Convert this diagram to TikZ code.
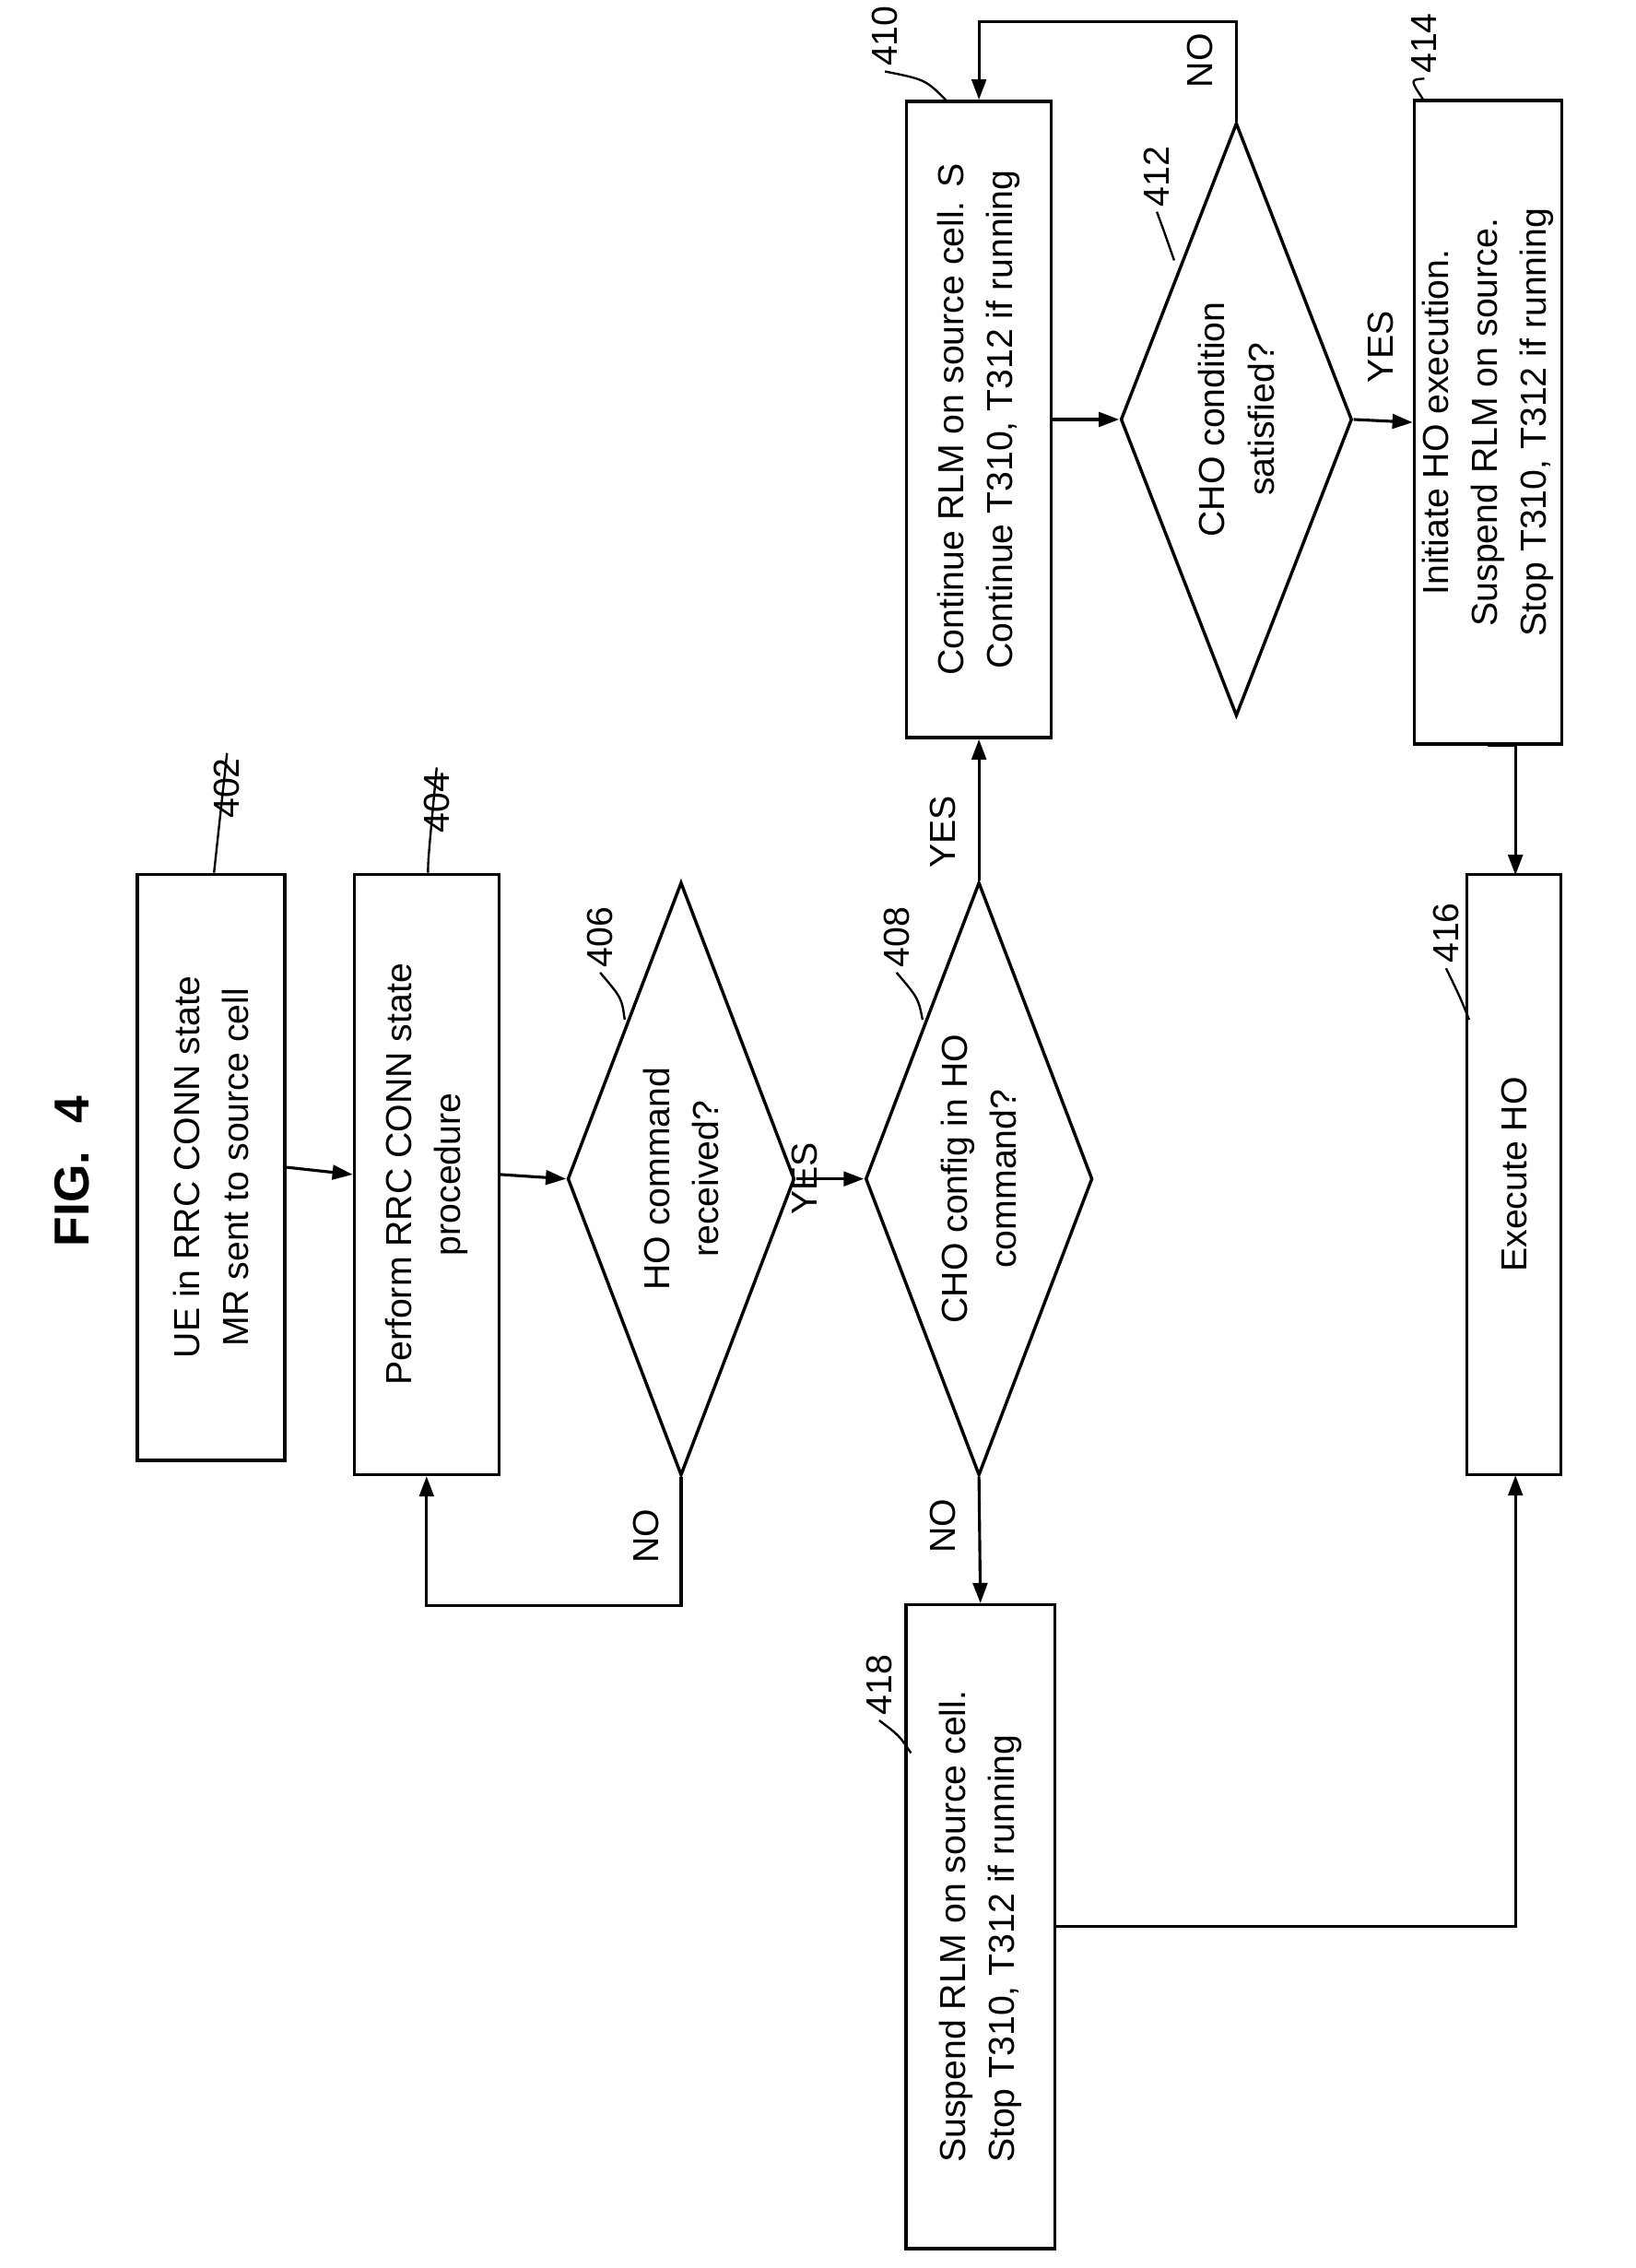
\documentclass[tikz,border=0pt]{standalone}
\usepackage{fontspec}
\setmainfont{Liberation Sans}
\usetikzlibrary{shapes.geometric,arrows.meta}
\begin{document}
\begin{tikzpicture}[x=1pt,y=-1pt,
  every node/.style={font=\fontsize{25}{34}\selectfont},
  box/.style={draw,line width=2.2pt,rotate=90,align=center,inner sep=0pt},
  dia/.style={draw,diamond,line width=2.2pt,rotate=90,align=center,inner sep=0pt,shape aspect=2.6},
  ln/.style={line width=2pt},
  arr/.style={line width=2pt,-{Triangle[length=14pt,width=10pt]}},
  lab/.style={rotate=90},
  ref/.style={rotate=90}]
\useasboundingbox (0,0) rectangle (1131,1568);
\node[rotate=90,font=\fontsize{34}{40}\selectfont\bfseries\rmfamily] (fig) at (50,810) {FIG.\ \ 4};
% boxes
\node[box,minimum width=405pt,minimum height=102pt] (b402) at (146,807) {UE in RRC CONN state\\MR sent to source cell};
\node[box,minimum width=415pt,minimum height=100pt] (b404) at (295,812) {Perform RRC CONN state\\procedure};
\node[dia,minimum width=410pt,minimum height=157pt] (d406) at (471,815) {HO command\\received?};
\node[dia,minimum width=410pt,minimum height=157pt] (d408) at (677,815) {CHO config in HO\\command?};
\node[box,minimum width=440pt,minimum height=100pt] (b410) at (677,290) {Continue RLM on source cell. S\\Continue T310, T312 if running};
\node[dia,minimum width=410pt,minimum height=160pt] (d412) at (855,290) {CHO condition\\satisfied?};
\node[box,minimum width=445pt,minimum height=102pt] (b414) at (1029,292) {Initiate HO execution.\\Suspend RLM on source.\\Stop T310, T312 if running};
\node[box,minimum width=415pt,minimum height=65pt] (b416) at (1047,812) {Execute HO};
\node[box,minimum width=445pt,minimum height=103pt,align=left] (b418) at (678,1332) {Suspend RLM on source cell.\\Stop T310, T312 if running};
% ref labels
\node[ref] (r402) at (157,545) {402};
\node[ref] (r404) at (302,555) {404};
\node[ref] (r406) at (415,648) {406};
\node[ref] (r408) at (620,648) {408};
\node[ref] (r410) at (612,25) {410};
\node[ref] (r412) at (800,122) {412};
\node[ref] (r414) at (985,30) {414};
\node[ref] (r416) at (1000,645) {416};
\node[ref] (r418) at (608,1165) {418};
\draw[ln,line width=1.5pt] (r402.east) .. controls (150,585) .. (b402.east -| 148,0);
\draw[ln,line width=1.5pt] (r404.east) .. controls (296,595) .. (b404.east -| 296,0);
\draw[ln,line width=1.5pt] (r406.west) .. controls (430,690) .. (432,705);
\draw[ln,line width=1.5pt] (r408.west) .. controls (635,690) .. (638,705);
\draw[ln,line width=1.5pt] (r410.west) .. controls (640,55) .. (655,70);
\draw[ln,line width=1.5pt] (r412.west) .. controls (805,160) .. (812,180);
\draw[ln,line width=1.5pt] (r414.west) .. controls (975,55) .. (985,70);
\draw[ln,line width=1.5pt] (r416.west) .. controls (1010,690) .. (1016,705);
\draw[ln,line width=1.5pt] (r418.west) .. controls (622,1200) .. (630,1212);
% arrows
\draw[arr] (b402.south) -- (b404.north);
\draw[arr] (b404.south) -- (d406.north);
\draw[arr] (d406.south) -- node[lab,above=2pt,pos=0.45] {YES} (d408.north);
\draw[arr] (d406.west) -- (471,1110) -| node[lab,pos=0.25,above] {} (b404.west);
\node[lab] (no406) at (447,1062) {NO};
\draw[arr] (d408.east) -- (b410.west);
\node[lab] (yes408) at (652,575) {YES};
\draw[arr] (d408.west) -- (b418.east);
\node[lab] (no408) at (652,1055) {NO};
\draw[arr] (b410.south) -- (d412.north);
\draw[arr] (d412.south) -- (b414.north);
\node[lab] (yes412) at (955,240) {YES};
\draw[arr] (d412.east) -- (855,15) -- (677,15) -- (b410.east);
\node[lab] (no412) at (830,42) {NO};
\draw[arr] (b414.west |- 0,515) coordinate (c414) -- (1048,515) -- (1048,605);
\coordinate (c418) at (730,1332);
\draw[arr] (c418) -- (1048,1332) -- (1048,1020);
\end{tikzpicture}
\end{document}
